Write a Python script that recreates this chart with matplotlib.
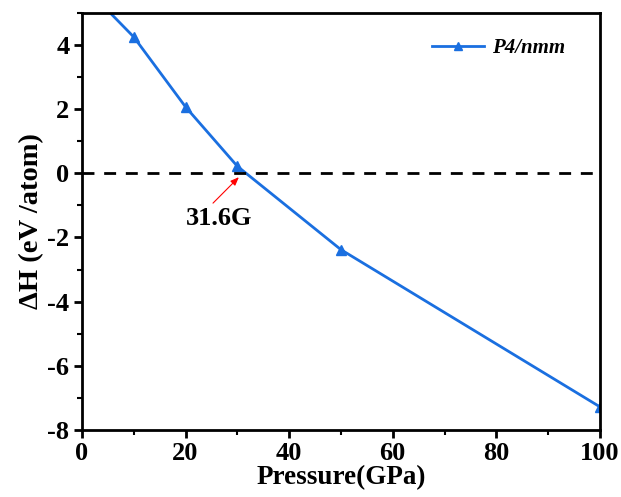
import matplotlib.pyplot as plt
import numpy as np
from matplotlib.ticker import MultipleLocator

plt.rcParams['font.family'] = ['Liberation Serif', 'DejaVu Serif']
plt.rcParams['font.weight'] = 'bold'
plt.rcParams['axes.unicode_minus'] = False

# data
pressure = [0, 10, 20, 30, 50, 100]
dH = [5.9, 4.25, 2.07, 0.22, -2.38, -7.28]
label = "P4/nmm"
trans_p = 31.6

fig = plt.figure(figsize=(6.21, 4.97), dpi=100)
ax = fig.add_axes([0.132, 0.135, 0.834, 0.839])

ax.plot(pressure, dH, '-^', color='#1a6fe0', lw=2, markersize=7, label=label)
ax.axhline(0, color='black', ls=(0, (4.3, 3.5)), lw=2)

# red arrow pointing at the crossing, label below it
ax.annotate("", xy=(30.3, -0.12), xytext=(25.3, -0.93),
            arrowprops=dict(arrowstyle='-|>,head_length=0.5,head_width=0.2', color='red',
                            lw=0.8, shrinkA=0, shrinkB=0))
ax.text(26.4, -1.42, "31.6G", fontsize=19, fontweight='bold', ha='center', va='center')

ax.set_xlim(0, 100)
ax.set_ylim(-8, 5)
ax.xaxis.set_major_locator(MultipleLocator(20))
ax.xaxis.set_minor_locator(MultipleLocator(10))
ax.yaxis.set_major_locator(MultipleLocator(2))
ax.yaxis.set_minor_locator(MultipleLocator(1))
ax.tick_params(which='major', direction='out', length=6, width=2, labelsize=19, pad=3)
ax.tick_params(which='minor', direction='out', length=3.5, width=1.5)
for s in ax.spines.values():
    s.set_linewidth(2)

ax.set_xlabel("Pressure(GPa)", fontsize=19.5, fontweight='bold', labelpad=0)
ax.set_ylabel("ΔH (eV /atom)", fontsize=20.5, fontweight='bold', labelpad=2)

leg = ax.legend(loc='upper right', frameon=False, prop={'size': 15, 'weight': 'bold', 'style': 'italic'},
                handlelength=2.5, handletextpad=0.4, markerscale=0.85, bbox_to_anchor=(0.97, 0.985))

fig.savefig("out.png", dpi=100)
